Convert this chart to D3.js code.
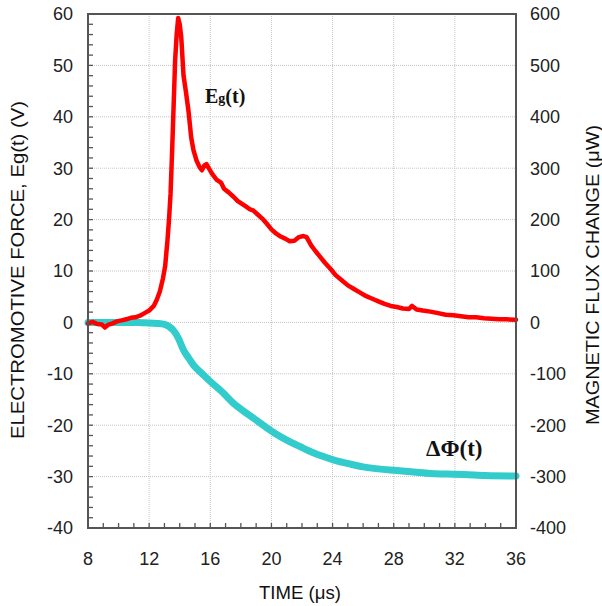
<!DOCTYPE html>
<html><head><meta charset="utf-8">
<script src="https://cdn.jsdelivr.net/npm/d3@7"></script>
<style>body{margin:0;background:#fff}svg{display:block}</style>
</head><body>
<script>
const xTicks = [8,12,16,20,24,28,32,36];
const yLeftTicks = [-40,-30,-20,-10,0,10,20,30,40,50,60];
const yRightTicks = [-400,-300,-200,-100,0,100,200,300,400,500,600];

const egTime = [8.0,8.3,8.6,8.9,9.1,9.3,9.6,9.9,10.2,10.5,10.8,11.1,11.4,11.7,12.0,12.3,12.5,12.7,12.9,13.05,13.2,13.3,13.4,13.5,13.6,13.7,13.8,13.9,14.0,14.1,14.25,14.4,14.58,14.75,14.9,15.1,15.3,15.45,15.6,15.75,15.9,16.1,16.4,16.7,16.9,17.2,17.5,17.8,18.0,18.3,18.6,18.8,19.1,19.4,19.7,20.0,20.3,20.6,20.9,21.2,21.5,21.8,22.1,22.3,22.6,22.9,23.2,23.5,23.9,24.2,24.6,25.0,25.4,25.8,26.2,26.6,27.0,27.4,27.8,28.2,28.6,29.0,29.2,29.5,29.9,30.4,30.9,31.4,31.9,32.4,32.9,33.4,33.9,34.4,34.9,35.4,36.0];
const egValue = [-0.2,0.1,-0.3,-0.4,-1.0,-0.5,-0.2,0.2,0.4,0.6,0.9,1.0,1.3,1.8,2.3,3.2,4.4,6.0,8.5,11,16,20,25,33,42,51,56,59.2,58,55.5,48,45,41,36,33.5,31.5,30.2,29.6,30.5,30.8,30.0,29.0,27.8,27.2,26.0,25.3,24.5,23.6,23.2,22.6,22.0,21.8,21.0,20.2,19.2,18.1,17.3,16.7,16.3,15.8,15.9,16.6,16.8,16.6,15.0,13.8,12.7,11.6,10.3,9.2,8.2,7.2,6.5,5.8,5.1,4.6,4.1,3.6,3.2,3.0,2.7,2.6,3.2,2.5,2.3,2.1,1.8,1.5,1.4,1.2,1.0,1.0,0.8,0.7,0.6,0.6,0.5];

const phiTime = [8,9,10,11,11.5,12,12.5,13.0,13.3,13.6,13.9,14.25,14.6,14.9,15.4,16.0,16.8,17.5,18.2,18.9,19.6,20.3,21.0,21.9,22.7,23.4,24.1,25.2,26.0,27.0,28.2,29.3,30.4,31.5,32.6,34.0,36.0];
const phiValue = [0,0,0,0,-0.5,-1,-2,-4,-8,-16,-30,-54,-70,-83,-98,-115,-136,-157,-173,-188,-203,-217,-229,-242,-253,-261,-268,-276,-281,-285,-288,-291,-294,-295,-296,-298,-299];

const W = 602, H = 606;
const m = {left:88, right:516, top:14, bottom:528};
const svg = d3.select("body").append("svg").attr("width",W).attr("height",H);

const x = d3.scaleLinear().domain([8,36]).range([m.left,m.right]);
const yL = d3.scaleLinear().domain([-40,60]).range([m.bottom,m.top]);
const yR = d3.scaleLinear().domain([-400,600]).range([m.bottom,m.top]);

// grid
const grid = svg.append("g").attr("stroke","#c4c4c4").attr("stroke-width",1).attr("stroke-dasharray","1,1");
xTicks.slice(1,-1).forEach(t=>grid.append("line").attr("x1",x(t)).attr("x2",x(t)).attr("y1",m.top).attr("y2",m.bottom));
yLeftTicks.slice(1,-1).forEach(t=>grid.append("line").attr("x1",m.left).attr("x2",m.right).attr("y1",yL(t)).attr("y2",yL(t)));

// minor ticks inside
const tk = svg.append("g").attr("stroke","#555").attr("stroke-width",1.3);
d3.range(-40,61,2).forEach(v=>tk.append("line").attr("x1",m.left).attr("x2",m.left+5).attr("y1",yL(v)).attr("y2",yL(v)));
d3.range(8,37,1).forEach(v=>tk.append("line").attr("x1",x(v)).attr("x2",x(v)).attr("y1",m.bottom).attr("y2",m.bottom-5));

// lines
const phiLine = d3.line().x((d,i)=>x(phiTime[i])).y(d=>yR(d)).curve(d3.curveMonotoneX);
svg.append("path").attr("d",phiLine(phiValue)).attr("fill","none").attr("stroke","#33cccc").attr("stroke-width",7).attr("stroke-linecap","round").attr("stroke-linejoin","round");
const egLine = d3.line().x((d,i)=>x(egTime[i])).y(d=>yL(d));
svg.append("path").attr("d",egLine(egValue)).attr("fill","none").attr("stroke","#ff0000").attr("stroke-width",4.5).attr("stroke-linejoin","round").attr("stroke-linecap","round");

// frame
svg.append("rect").attr("x",m.left).attr("y",m.top).attr("width",m.right-m.left).attr("height",m.bottom-m.top)
  .attr("fill","none").attr("stroke","#555").attr("stroke-width",2);

const font = "'Liberation Sans', Arial, sans-serif";
const lab = svg.append("g").attr("font-family",font).attr("font-size",18).attr("fill","#222");
yLeftTicks.forEach(v=>lab.append("text").attr("x",73).attr("y",yL(v)).attr("dy","0.36em").attr("text-anchor","end").text(v));
yRightTicks.forEach(v=>lab.append("text").attr("x",530).attr("y",yR(v)).attr("dy","0.36em").attr("text-anchor","start").text(v));
xTicks.forEach(v=>lab.append("text").attr("x",x(v)).attr("y",565).attr("text-anchor","middle").text(v));

const tt = svg.append("g").attr("font-family",font).attr("font-size",18).attr("fill","#111");
tt.append("text").attr("x",300).attr("y",599).attr("text-anchor","middle").attr("textLength",82).attr("lengthAdjust","spacingAndGlyphs").text("TIME (μs)");
tt.append("text").attr("transform","translate(24,270) rotate(-90)").attr("text-anchor","middle").attr("textLength",338).attr("lengthAdjust","spacingAndGlyphs").text("ELECTROMOTIVE FORCE, Eg(t) (V)");
tt.append("text").attr("transform","translate(599,275) rotate(-90)").attr("text-anchor","middle").attr("textLength",300).attr("lengthAdjust","spacingAndGlyphs").text("MAGNETIC FLUX CHANGE (μW)");

// annotations
const a1 = svg.append("text").attr("x",205).attr("y",103).attr("font-family","'Liberation Serif','Times New Roman',serif").attr("font-weight","bold").attr("fill","#111");
a1.append("tspan").attr("font-size",20).text("E");
a1.append("tspan").attr("font-size",14).text("g");
a1.append("tspan").attr("font-size",20).text("(t)");
svg.append("text").attr("x",426).attr("y",456).attr("font-family","'Liberation Serif','Times New Roman',serif").attr("font-weight","bold").attr("font-size",23).attr("fill","#111").text("ΔΦ(t)");
</script>
</body></html>
